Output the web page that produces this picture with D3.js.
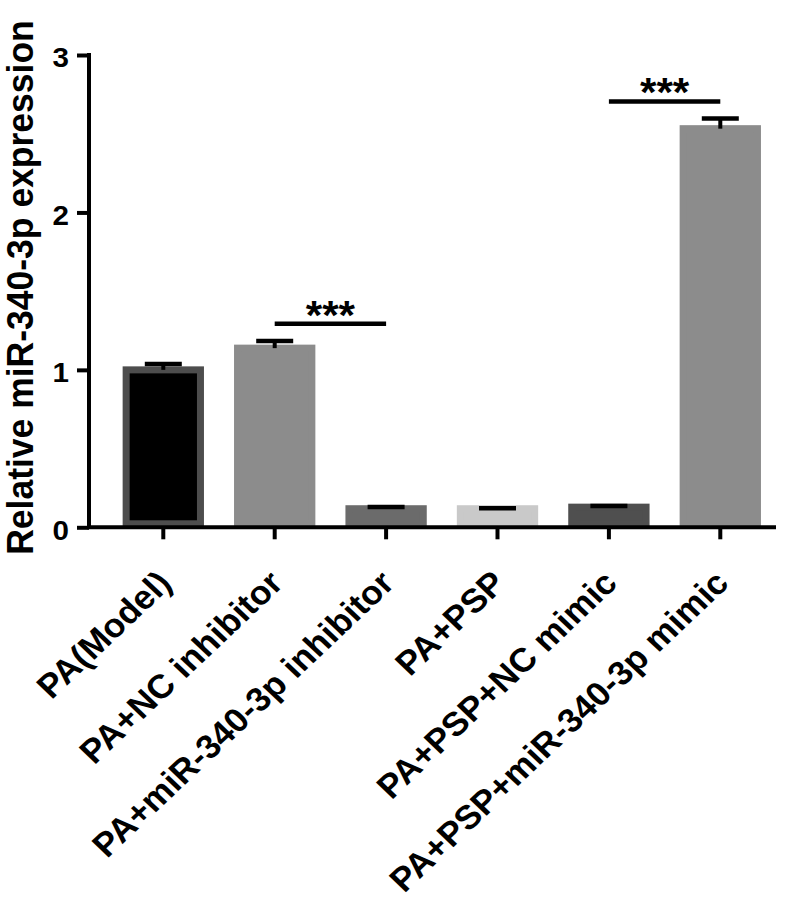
<!DOCTYPE html>
<html>
<head>
<meta charset="utf-8">
<script src="https://cdn.jsdelivr.net/npm/d3@7"></script>
<style>
  body { margin: 0; background: #fff; }
  text { font-family: "Liberation Sans", Arial, sans-serif; font-weight: bold; }
</style>
</head>
<body>
<script>
// data
const groups = [
  "PA(Model)",
  "PA+NC inhibitor",
  "PA+miR-340-3p inhibitor",
  "PA+PSP",
  "PA+PSP+NC mimic",
  "PA+PSP+miR-340-3p mimic"
];
const means = [1.0, 1.138, 0.118, 0.118, 0.128, 2.532];
const errors = [0.037, 0.046, 0.011, 0.003, 0.008, 0.065];
const fills = ["#000000", "#8c8c8c", "#6b6b6b", "#c9c9c9", "#4f4f4f", "#8c8c8c"];
const borders = ["#4d4d4d", "#8c8c8c", "#6b6b6b", "#c9c9c9", "#4f4f4f", "#8c8c8c"];
const yTicks = [0, 1, 2, 3];
// significance brackets: [from group, to group, level, label]
const comparisons = [
  [1, 2, 1.293, "***"],
  [4, 5, 2.705, "***"]
];

const width = 800;
const height = 903;
const margin = { top: 55, left: 89, bottom: 376, right: 24 };
const barStroke = 7;
const sx = 1.056; // the figure is slightly wider than tall, text included

const svg = d3.select("body")
  .append("svg")
  .attr("width", width)
  .attr("height", height);

const y = d3.scaleLinear()
  .domain([0, 3])
  .range([height - margin.bottom + 0.3, margin.top]);

const x = d3.scaleBand()
  .domain(groups)
  .range([107.6, 776])
  .paddingInner(0.27)
  .paddingOuter(0.135);

const bw = x.bandwidth();

// bars (outer edge = band, border drawn inside)
svg.selectAll(".bar")
  .data(groups)
  .join("rect")
  .attr("class", "bar")
  .attr("x", d => x(d) + barStroke / 2)
  .attr("width", bw - barStroke)
  .attr("y", (d, i) => y(means[i]))
  .attr("height", (d, i) => y(0) - y(means[i]) - barStroke / 2)
  .attr("fill", (d, i) => fills[i])
  .attr("stroke", (d, i) => borders[i])
  .attr("stroke-width", barStroke);

// error bars (upper)
const capW = 37;
const eb = svg.selectAll(".err")
  .data(groups)
  .join("g")
  .attr("class", "err")
  .attr("transform", d => `translate(${x(d) + bw / 2},0)`);

eb.append("line")
  .attr("y1", (d, i) => y(means[i]))
  .attr("y2", (d, i) => y(means[i] + errors[i]))
  .attr("stroke", "#000")
  .attr("stroke-width", 4);

eb.append("line")
  .attr("x1", -capW / 2)
  .attr("x2", capW / 2)
  .attr("y1", (d, i) => y(means[i] + errors[i]))
  .attr("y2", (d, i) => y(means[i] + errors[i]))
  .attr("stroke", "#000")
  .attr("stroke-width", 4.5);

// y axis
const yAxis = svg.append("g")
  .attr("transform", `translate(${margin.left},0)`)
  .call(d3.axisLeft(y).tickValues(yTicks).tickFormat(d3.format("d")).tickSize(12).tickPadding(8));
yAxis.select(".domain").attr("stroke", "#000").attr("stroke-width", 4)
  .attr("d", `M0,${y(3) - 2}V${y(0)}`);
yAxis.selectAll(".tick line").attr("stroke", "#000").attr("stroke-width", 4);
yAxis.selectAll(".tick text")
  .attr("fill", "#000")
  .attr("x", 0)
  .attr("transform", `translate(-20,0) scale(${sx},1)`)
  .style("font-size", "28px")
  .attr("dy", "0.42em");

// x axis
const xAxis = svg.append("g")
  .attr("transform", `translate(0,${y(0)})`)
  .call(d3.axisBottom(x).tickSize(12).tickFormat(""));
xAxis.select(".domain").attr("stroke", "#000").attr("stroke-width", 4)
  .attr("d", `M${margin.left - 2},0H776`);
xAxis.selectAll(".tick line").attr("stroke", "#000").attr("stroke-width", 4);

svg.selectAll(".xlabel")
  .data(groups)
  .join("text")
  .attr("class", "xlabel")
  .attr("text-anchor", "end")
  .attr("transform", d => `translate(${x(d) + bw / 2 + 10},585) scale(${sx},1) rotate(-45)`)
  .style("font-size", "33.5px")
  .attr("fill", "#000")
  .text(d => d);

// y title
svg.append("text")
  .attr("transform", `translate(33,287.5) scale(${sx},1) rotate(-90)`)
  .attr("text-anchor", "middle")
  .style("font-size", "35.5px")
  .attr("fill", "#000")
  .text("Relative miR-340-3p expression");

// significance
comparisons.forEach(([a, b, lvl, lab]) => {
  const x1 = x(groups[a]) + bw / 2;
  const x2 = x(groups[b]) + bw / 2;
  svg.append("line")
    .attr("x1", x1).attr("x2", x2)
    .attr("y1", y(lvl)).attr("y2", y(lvl))
    .attr("stroke", "#000")
    .attr("stroke-width", 4.5);
  svg.append("text")
    .attr("transform", `translate(${(x1 + x2) / 2},${y(lvl) + 5}) scale(${sx},1)`)
    .attr("text-anchor", "middle")
    .style("font-size", "40px")
    .attr("fill", "#000")
    .text(lab);
});
</script>
</body>
</html>
